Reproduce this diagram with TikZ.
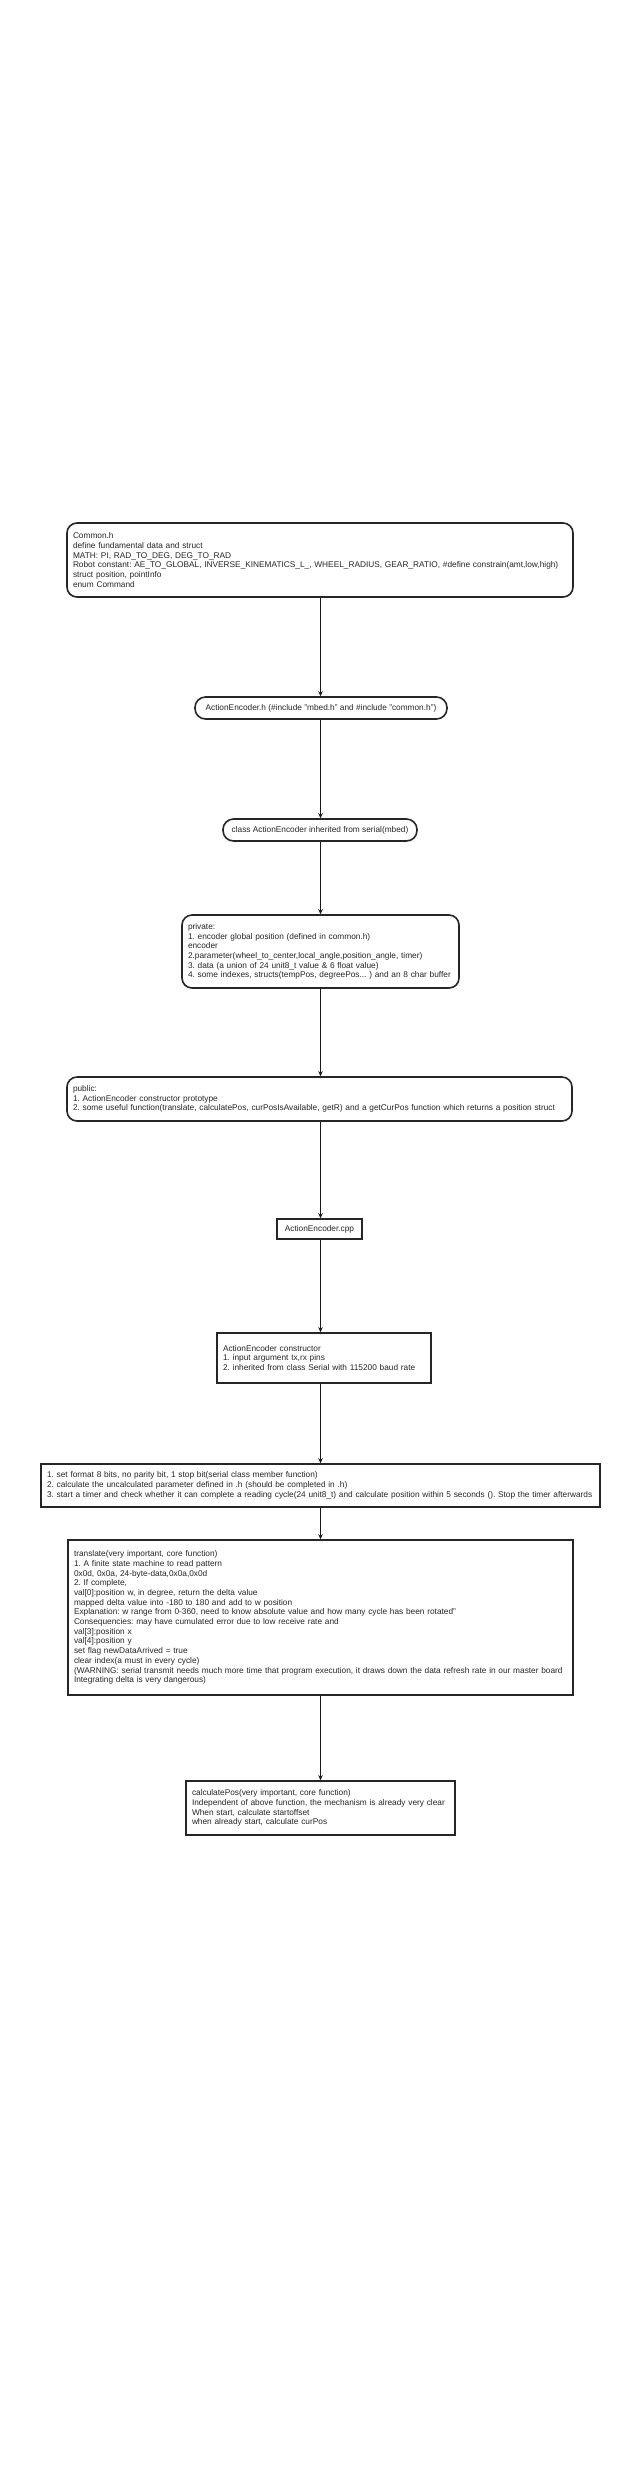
\documentclass[tikz,border=0pt]{standalone}
\usepackage{fontspec}
\setmainfont{Liberation Sans}
\usetikzlibrary{arrows.meta}
\frenchspacing
\begin{document}
\begin{tikzpicture}[x=1pt,y=-1pt,
  box/.style={draw=black!85, line width=1.6pt, inner sep=0pt, inner xsep=6pt,
    font=\fontsize{8.3}{9.7}\selectfont\frenchspacing, text=black!85, align=left},
  rbox/.style={box, rounded corners=10pt},
  pill/.style={box, rounded corners=10.5pt, align=center},
  arr/.style={draw=black!90, line width=1.3pt, -{Stealth[length=5pt,width=4.5pt]}}]
\useasboundingbox (0,0) rectangle (640,2469);
\fill[white] (0,0) rectangle (640,2469);
\coordinate (spine) at (320.5,0);

\node[rbox, text width=494pt, minimum height=74pt] (common) at (320,560)
 {Common.h\\define fundamental data and struct\\MATH: PI, RAD\_TO\_DEG, DEG\_TO\_RAD\\Robot constant: AE\_TO\_GLOBAL, INVERSE\_KINEMATICS\_L\_, WHEEL\_RADIUS, GEAR\_RATIO, \#define constrain(amt,low,high)\\struct position, pointInfo\\enum Command};

\node[pill, minimum width=252pt, minimum height=22pt] (hdr) at (321,708)
 {ActionEncoder.h (\#include "mbed.h" and \#include "common.h")};

\node[pill, minimum width=194pt, minimum height=22pt] (cls) at (320,830)
 {class ActionEncoder inherited from serial(mbed)};

\node[rbox, text width=265pt, minimum height=73pt] (priv) at (320.5,951.5)
 {private:\\1. encoder global position (defined in common.h)\\encoder\\2.parameter(wheel\_to\_center,local\_angle,position\_angle, timer)\\3. data (a union of 24 unit8\_t value \& 6 float value)\\4. some indexes, structs(tempPos, degreePos... ) and an 8 char buffer};

\node[rbox, text width=493pt, minimum height=44pt] (pub) at (319.5,1099)
 {public:\\1. ActionEncoder constructor prototype\\2. some useful function(translate, calculatePos, curPosIsAvailable, getR) and a getCurPos function which returns a position struct};

\node[box, align=center, minimum width=85pt, minimum height=20pt] (cpp) at (319.5,1229)
 {ActionEncoder.cpp};

\node[box, text width=202pt, minimum height=50pt] (ctor) at (324,1358)
 {ActionEncoder constructor\\1. input argument tx,rx pins\\2. inherited from class Serial with 115200 baud rate};

\node[box, text width=547pt, minimum height=43pt] (fmt) at (320.5,1485.5)
 {1. set format 8 bits, no parity bit, 1 stop bit(serial class member function)\\2. calculate the uncalculated parameter defined in .h (should be completed in .h)\\3. start a timer and check whether it can complete a reading cycle(24 unit8\_t) and calculate position within 5 seconds (). Stop the timer afterwards};

\node[box, text width=493pt, minimum height=155pt] (trans) at (320.5,1617.5)
 {translate(very important, core function)\\1. A finite state machine to read pattern\\0x0d, 0x0a, 24-byte-data,0x0a,0x0d\\2. If complete,\\val[0]:position w, in degree, return the delta value\\mapped delta value into -180 to 180 and add to w position\\Explanation: w range from 0-360, need to know absolute value and how many cycle has been rotated"\\Consequencies: may have cumulated error due to low receive rate and\\val[3]:position x\\val[4]:position y\\set flag newDataArrived = true\\clear index(a must in every cycle)\\(WARNING: serial transmit needs much more time that program execution, it draws down the data refresh rate in our master board\\Integrating delta is very dangerous)};

\node[box, text width=257pt, minimum height=54pt] (calc) at (320.5,1808)
 {calculatePos(very important, core function)\\Independent of above function, the mechanism is already very clear\\When start, calculate startoffset\\when already start, calculate curPos};

\foreach \a/\b in {common/hdr, hdr/cls, cls/priv, priv/pub, pub/cpp, cpp/ctor, ctor/fmt, fmt/trans, trans/calc}
  \draw[arr] (\a.south -| spine) -- (\b.north -| spine);
\end{tikzpicture}
\end{document}
